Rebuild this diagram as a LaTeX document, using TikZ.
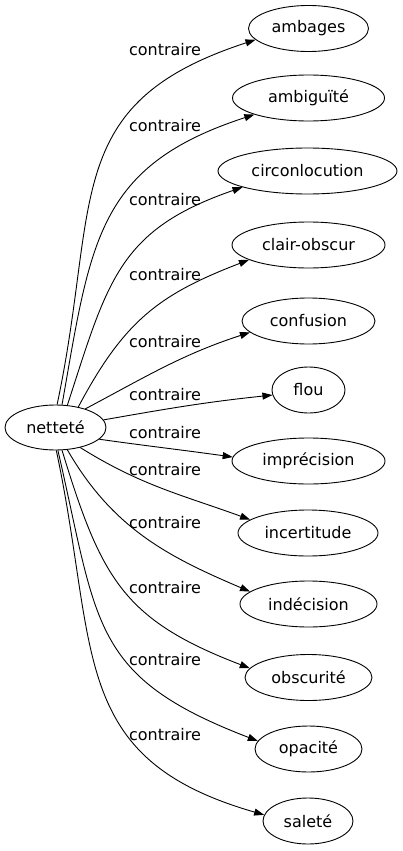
\documentclass[tikz,border=0pt]{standalone}
\usepackage{fontspec}
\setmainfont{DejaVu Sans}
\usetikzlibrary{arrows.meta,shapes.geometric}
\tikzset{
  ent/.style={draw, ellipse, inner sep=0pt, line width=0.9pt, minimum height=46pt,
              font=\fontsize{16}{19}\selectfont},
  lbl/.style={inner sep=0pt, font=\fontsize{16}{19}\selectfont},
  rel/.style={-{Triangle[length=10pt,width=7pt]}, line width=0.9pt},
}
\begin{document}
\begin{tikzpicture}[x=1pt,y=1pt]
\useasboundingbox (0,0) rectangle (403,-851);
\node[ent, minimum width=101pt, minimum height=45pt] (n) at (55.5,-427.5) {netteté};
\node[ent, minimum width=120pt] (a1) at (308.5,-28.5) {ambages};
\node[ent, minimum width=152pt] (a2) at (308.5,-98) {ambiguïté};
\node[ent, minimum width=179pt] (a3) at (307.5,-171) {circonlocution};
\node[ent, minimum width=153pt] (a4) at (308.5,-245) {clair-obscur};
\node[ent, minimum width=133pt] (a5) at (308.5,-321) {confusion};
\node[ent, minimum width=73pt] (a6) at (308.5,-390) {flou};
\node[ent, minimum width=153pt] (a7) at (308.5,-461) {imprécision};
\node[ent, minimum width=140pt] (a8) at (308,-533) {incertitude};
\node[ent, minimum width=137pt] (a9) at (308.5,-604) {indécision};
\node[ent, minimum width=127pt] (a10) at (308.5,-677.5) {obscurité};
\node[ent, minimum width=107pt] (a11) at (308.5,-749) {opacité};
\node[ent, minimum width=90pt] (a12) at (308,-821) {saleté};
\node[lbl] (l1) at (165,-50) {contraire};
\node[lbl] (l2) at (165,-126) {contraire};
\node[lbl] (l3) at (165,-200) {contraire};
\node[lbl] (l4) at (165,-275) {contraire};
\node[lbl] (l5) at (165,-342) {contraire};
\node[lbl] (l6) at (165,-395) {contraire};
\node[lbl] (l7) at (165,-433) {contraire};
\node[lbl] (l8) at (165,-470) {contraire};
\node[lbl] (l9) at (165,-523) {contraire};
\node[lbl] (l10) at (165,-588) {contraire};
\node[lbl] (l11) at (165,-660) {contraire};
\node[lbl] (l12) at (165,-735) {contraire};
\draw[rel] (n.86) to[out=78,in=198,looseness=1.27] (a1.192);
\draw[rel] (n.74) to[out=80,in=198,looseness=1.22] (a2.197);
\draw[rel] (n.62) to[out=72,in=199,looseness=1.2] (a3.194);
\draw[rel] (n.42) to[out=62,in=201,looseness=1.1] (a4.194);
\draw[rel] (n.32) to[out=28,in=198] (a5.191);
\draw[rel] (n.9) to[out=10,in=186] (a6.188);
\draw[rel] (n.345) to[out=-8,in=172] (a7.177);
\draw[rel] (n.321) to[out=-32,in=160] (a8.167);
\draw[rel] (n.298) to[out=-60,in=157] (a9.168);
\draw[rel] (n.286) to[out=-73,in=159,looseness=1.2] (a10.171);
\draw[rel] (n.276) to[out=-77,in=159,looseness=1.3] (a11.171);
\draw[rel] (n.272) to[out=-78,in=164,looseness=1.25] (a12.172);
\end{tikzpicture}
\end{document}
